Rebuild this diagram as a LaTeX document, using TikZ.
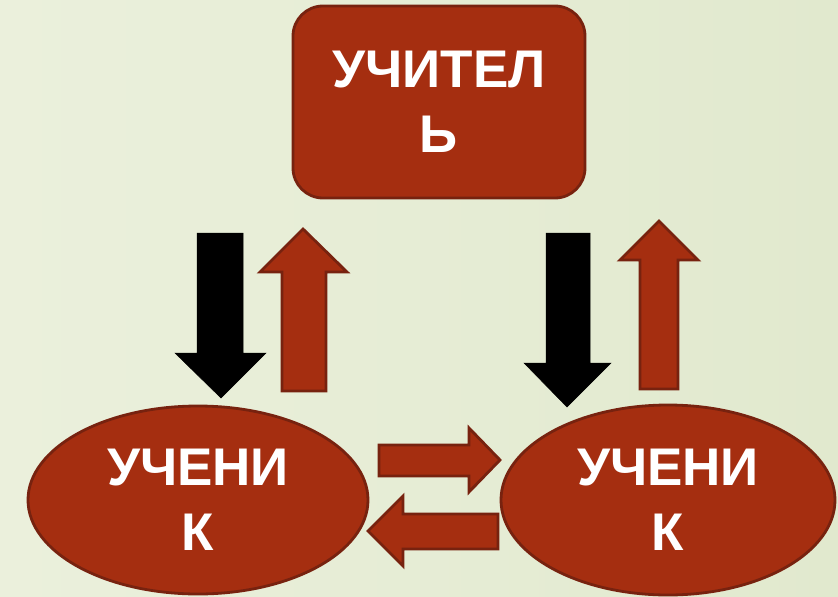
\documentclass[tikz,border=0pt]{standalone}
\usepackage{fontspec}
\setmainfont{Liberation Sans}
\usetikzlibrary{shapes.geometric}
\definecolor{bgl}{HTML}{EBF0DC}
\definecolor{bgr}{HTML}{E1E9CE}
\definecolor{redfill}{HTML}{A52E10}
\definecolor{redline}{HTML}{77220F}
\tikzset{
  redshape/.style={fill=redfill, draw=redline, line width=2.8pt, line join=miter},
  blackshape/.style={fill=black, draw=black, line width=0.5pt, line join=miter},
  label/.style={text=white, font=\bfseries\fontsize{53}{65}\selectfont, align=center, inner sep=0pt},
}
\begin{document}
\begin{tikzpicture}[x=1pt,y=-1pt]
\useasboundingbox (0,0) rectangle (838,597);
\shade[left color=bgl, right color=bgr] (0,0) rectangle (838,597);
% teacher box
\node[redshape, rounded corners=30pt, minimum width=292pt, minimum height=192pt, inner sep=0pt] (teacher) at (439,102) {};
\node[label] (teachertext) at (teacher.center) {УЧИТЕЛ\\Ь};
% pupils
\node[redshape, ellipse, minimum width=340pt, minimum height=188pt, inner sep=0pt] (pupilA) at (198,500) {};
\node[label] (pupilAtext) at (pupilA.center) {УЧЕНИ\\К};
\node[redshape, ellipse, minimum width=334pt, minimum height=190pt, inner sep=0pt] (pupilB) at (668,500) {};
\node[label] (pupilBtext) at (pupilB.center) {УЧЕНИ\\К};
% vertical arrows left
\fill[blackshape] (197,233) -- (243,233) -- (243,353) -- (266,353) -- (221,398) -- (175,353) -- (197,353) -- cycle;
\filldraw[redshape] (282,391) -- (326,391) -- (326,272) -- (347,272) -- (303,229) -- (260,272) -- (282,272) -- cycle;
% vertical arrows right
\fill[blackshape] (546,233) -- (590,233) -- (590,363) -- (611,363) -- (567,407) -- (524,363) -- (546,363) -- cycle;
\filldraw[redshape] (640,389) -- (678,389) -- (678,260) -- (698,260) -- (659,221) -- (620,260) -- (640,260) -- cycle;
% horizontal arrows
\filldraw[redshape] (379,445) -- (469,445) -- (469,428) -- (500,460) -- (469,492) -- (469,476) -- (379,476) -- cycle;
\filldraw[redshape] (498,514) -- (403,514) -- (403,496) -- (368,531) -- (403,566) -- (403,549) -- (498,549) -- cycle;
\end{tikzpicture}
\end{document}
